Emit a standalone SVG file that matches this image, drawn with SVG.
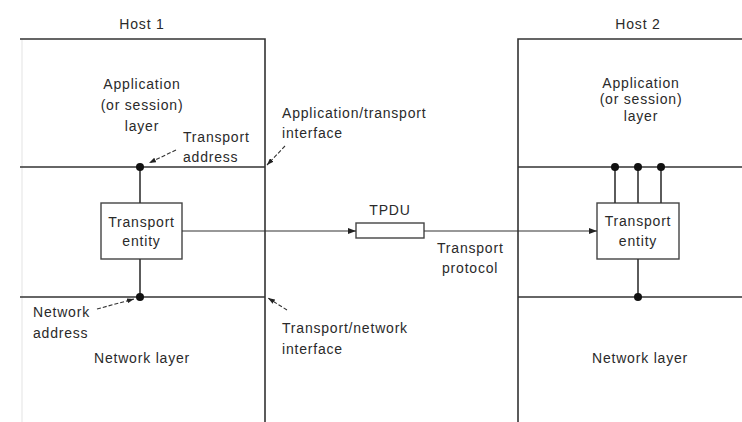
<svg xmlns="http://www.w3.org/2000/svg" width="742" height="422" viewBox="0 0 742 422">
<defs>
<style>
text{font-family:"Liberation Sans",Arial,sans-serif;font-size:14px;fill:#2a2a2a;letter-spacing:0.8px}
.c{text-anchor:middle}
.ln{stroke:#333;stroke-width:1.6;fill:none}
.th{stroke:#333;stroke-width:1.2;fill:none}
.da{stroke:#333;stroke-width:1.1;fill:none;stroke-dasharray:4 2}
.dot{fill:#111}
.box{fill:#fff;stroke:#444;stroke-width:1.4}
</style>
<marker id="ah" markerWidth="8" markerHeight="6" refX="8" refY="3" orient="auto" markerUnits="userSpaceOnUse">
<path d="M0,0 L8,3 L0,6 Z" fill="#222"/>
</marker>
<marker id="sa" markerWidth="7" markerHeight="5" refX="7" refY="2.5" orient="auto" markerUnits="userSpaceOnUse">
<path d="M0,0 L7,2.5 L0,5 Z" fill="#222"/>
</marker>
</defs>
<rect width="742" height="422" fill="#fff"/>

<g id="host1">
<line x1="22" y1="39" x2="22" y2="422" stroke="#ececec" stroke-width="1.5"/>
<path class="ln" d="M20,39 H265 V422"/>
<line class="ln" x1="20" y1="167" x2="265" y2="167"/>
<line class="ln" x1="20" y1="297" x2="265" y2="297"/>
<text class="c" x="142" y="29">Host 1</text>
<text class="c" x="142" y="89">Application</text>
<text class="c" x="142" y="110">(or session)</text>
<text class="c" x="142" y="131">layer</text>
<text class="c" x="142" y="363">Network layer</text>
</g>

<g id="host2">
<path class="ln" d="M742,39 H518 V422"/>
<line class="ln" x1="518" y1="167" x2="742" y2="167"/>
<line class="ln" x1="518" y1="297" x2="742" y2="297"/>
<text class="c" x="638" y="29">Host 2</text>
<text class="c" x="641" y="88">Application</text>
<text class="c" x="641" y="104">(or session)</text>
<text class="c" x="641" y="121">layer</text>
<text class="c" x="640" y="363">Network layer</text>
</g>

<g id="entity1">
<rect class="box" x="101" y="203" width="81" height="56"/>
<text class="c" x="141.5" y="227">Transport</text>
<text class="c" x="141.5" y="246">entity</text>
</g>

<g id="entity2">
<rect class="box" x="597" y="203" width="82" height="56"/>
<text class="c" x="638" y="226">Transport</text>
<text class="c" x="638" y="246">entity</text>
</g>

<g id="tpdu">
<rect class="box" x="356" y="223" width="68" height="15"/>
<text class="c" x="390" y="215">TPDU</text>
</g>

<g id="labels">
<text x="183" y="142">Transport</text>
<text x="183" y="162">address</text>
<text x="282" y="118">Application/transport</text>
<text x="282" y="138">interface</text>
<text x="437" y="253">Transport</text>
<text x="442" y="273">protocol</text>
<text x="282" y="333">Transport/network</text>
<text x="282" y="354">interface</text>
<text x="33" y="317">Network</text>
<text x="33" y="338">address</text>
</g>

<g id="connectors">
<line class="ln" x1="140" y1="167" x2="140" y2="203"/>
<line class="ln" x1="140" y1="259" x2="140" y2="297"/>
<circle class="dot" cx="140" cy="167" r="4"/>
<circle class="dot" cx="140" cy="297" r="4"/>
<line class="ln" x1="615" y1="167" x2="615" y2="203"/>
<line class="ln" x1="638" y1="167" x2="638" y2="203"/>
<line class="ln" x1="661" y1="167" x2="661" y2="203"/>
<line class="ln" x1="638" y1="259" x2="638" y2="297"/>
<circle class="dot" cx="615" cy="167" r="4"/>
<circle class="dot" cx="638" cy="167" r="4"/>
<circle class="dot" cx="661" cy="167" r="4"/>
<circle class="dot" cx="638" cy="297" r="4"/>
<line class="th" x1="182" y1="231" x2="356" y2="231" marker-end="url(#ah)"/>
<line class="th" x1="424" y1="231" x2="597" y2="231" marker-end="url(#ah)"/>
<line class="da" x1="176" y1="150" x2="149" y2="163" marker-end="url(#sa)"/>
<line class="da" x1="285" y1="146" x2="267" y2="165" marker-end="url(#sa)"/>
<line class="da" x1="287" y1="310" x2="268" y2="298" marker-end="url(#sa)"/>
<line class="da" x1="97" y1="309" x2="134" y2="299" marker-end="url(#sa)"/>
</g>
</svg>
